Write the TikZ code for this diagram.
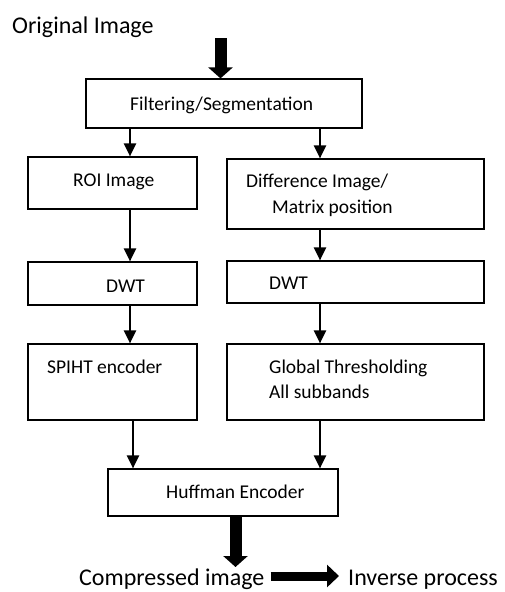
\documentclass[tikz,border=0pt]{standalone}
\usepackage{fontspec}
\setmainfont{Carlito}
\usetikzlibrary{arrows.meta}
\begin{document}
\begin{tikzpicture}
        [x=1pt,y=-1pt,
        every node/.style={inner sep=0pt},
        box/.style={rectangle,draw=black,line width=1.2pt},
        left-box/.style={box,minimum width=169pt},
        right-box/.style={box,minimum width=257pt},
        box-text/.style={anchor=base west,font=\fontsize{19.5}{25}\selectfont},
        big-text/.style={anchor=base west,font=\fontsize{24}{29}\selectfont},
        flow/.style={line width=2.2pt,-{Triangle[width=12pt,length=13pt]}},
        bigflow/.style={line width=12pt,-{Triangle[width=24pt,length=11pt]}}
        ]
        \useasboundingbox (0,0) rectangle (505,592);
        \node[big-text] (title) at (12,33) {Original Image};
        \node[box,minimum width=276pt,minimum height=49pt] (filt) at (224,103.5) {};
        \node[left-box,minimum height=52pt] (roi) at (112.5,183) {};
        \node[right-box,minimum height=70pt] (diff) at (355.5,194) {};
        \node[left-box,minimum height=43pt] (dwt-l) at (112.5,283.5) {};
        \node[right-box,minimum height=42pt] (dwt-r) at (355.5,282) {};
        \node[left-box,minimum height=76pt] (spiht) at (112.5,382) {};
        \node[right-box,minimum height=76pt] (glob) at (355.5,382) {};
        \node[box,minimum width=230pt,minimum height=47pt] (huff) at (223,492.5) {};
        \coordinate (src) at (220.5,38);
        \coordinate (out) at (235.5,567);
        \coordinate (lane-l) at (130,0);
        \coordinate (lane-m) at (133,0);
        \coordinate (lane-r) at (320,0);
        \coordinate (lane-h) at (0,576);
        \draw[bigflow] (src) -- (src |- filt.north);
        \draw[flow] (filt.south -| lane-l) -- (roi.north -| lane-l);
        \draw[flow] (filt.south -| lane-r) -- (diff.north -| lane-r);
        \draw[flow] (roi.south -| lane-l) -- (dwt-l.north -| lane-l);
        \draw[flow] (diff.south -| lane-r) -- (dwt-r.north -| lane-r);
        \draw[flow] (dwt-l.south -| lane-l) -- (spiht.north -| lane-l);
        \draw[flow] (dwt-r.south -| lane-r) -- (glob.north -| lane-r);
        \draw[flow] (spiht.south -| lane-m) -- (huff.north -| lane-m);
        \draw[flow] (glob.south -| lane-r) -- (huff.north -| lane-r);
        \draw[bigflow] (out |- huff.south) -- (out);
        \draw[line width=2pt] ([xshift=-1pt,yshift=-9pt]diff.north east) -- ([xshift=-1pt,yshift=8pt]diff.south east);
        \node[box-text] (filt-text) at (130,110) {Filtering/Segmentation};
        \node[box-text] (roi-text) at (73,186) {ROI Image};
        \node[box-text] (diff-text-1) at (246,187) {Difference Image/};
        \node[box-text] (diff-text-2) at (272,213) {Matrix position};
        \node[box-text] (dwt-l-text) at (106,292) {DWT};
        \node[box-text] (dwt-r-text) at (269,289) {DWT};
        \node[box-text] (spiht-text) at (47,373) {SPIHT encoder};
        \node[box-text] (glob-text-1) at (269,373) {Global Thresholding};
        \node[box-text] (glob-text-2) at (269,398) {All subbands};
        \node[box-text] (huff-text) at (166,498) {Huffman Encoder};
        \node[big-text] (comp) at (79,585.5) {Compressed image};
        \node[big-text] (inv) at (348,585.5) {Inverse process};
        \draw[line width=9pt,-{Triangle[width=22pt,length=12pt]},shorten <=6pt,shorten >=9pt] (comp.east |- lane-h) -- (inv.west |- lane-h);
    \end{tikzpicture}
\end{document}
